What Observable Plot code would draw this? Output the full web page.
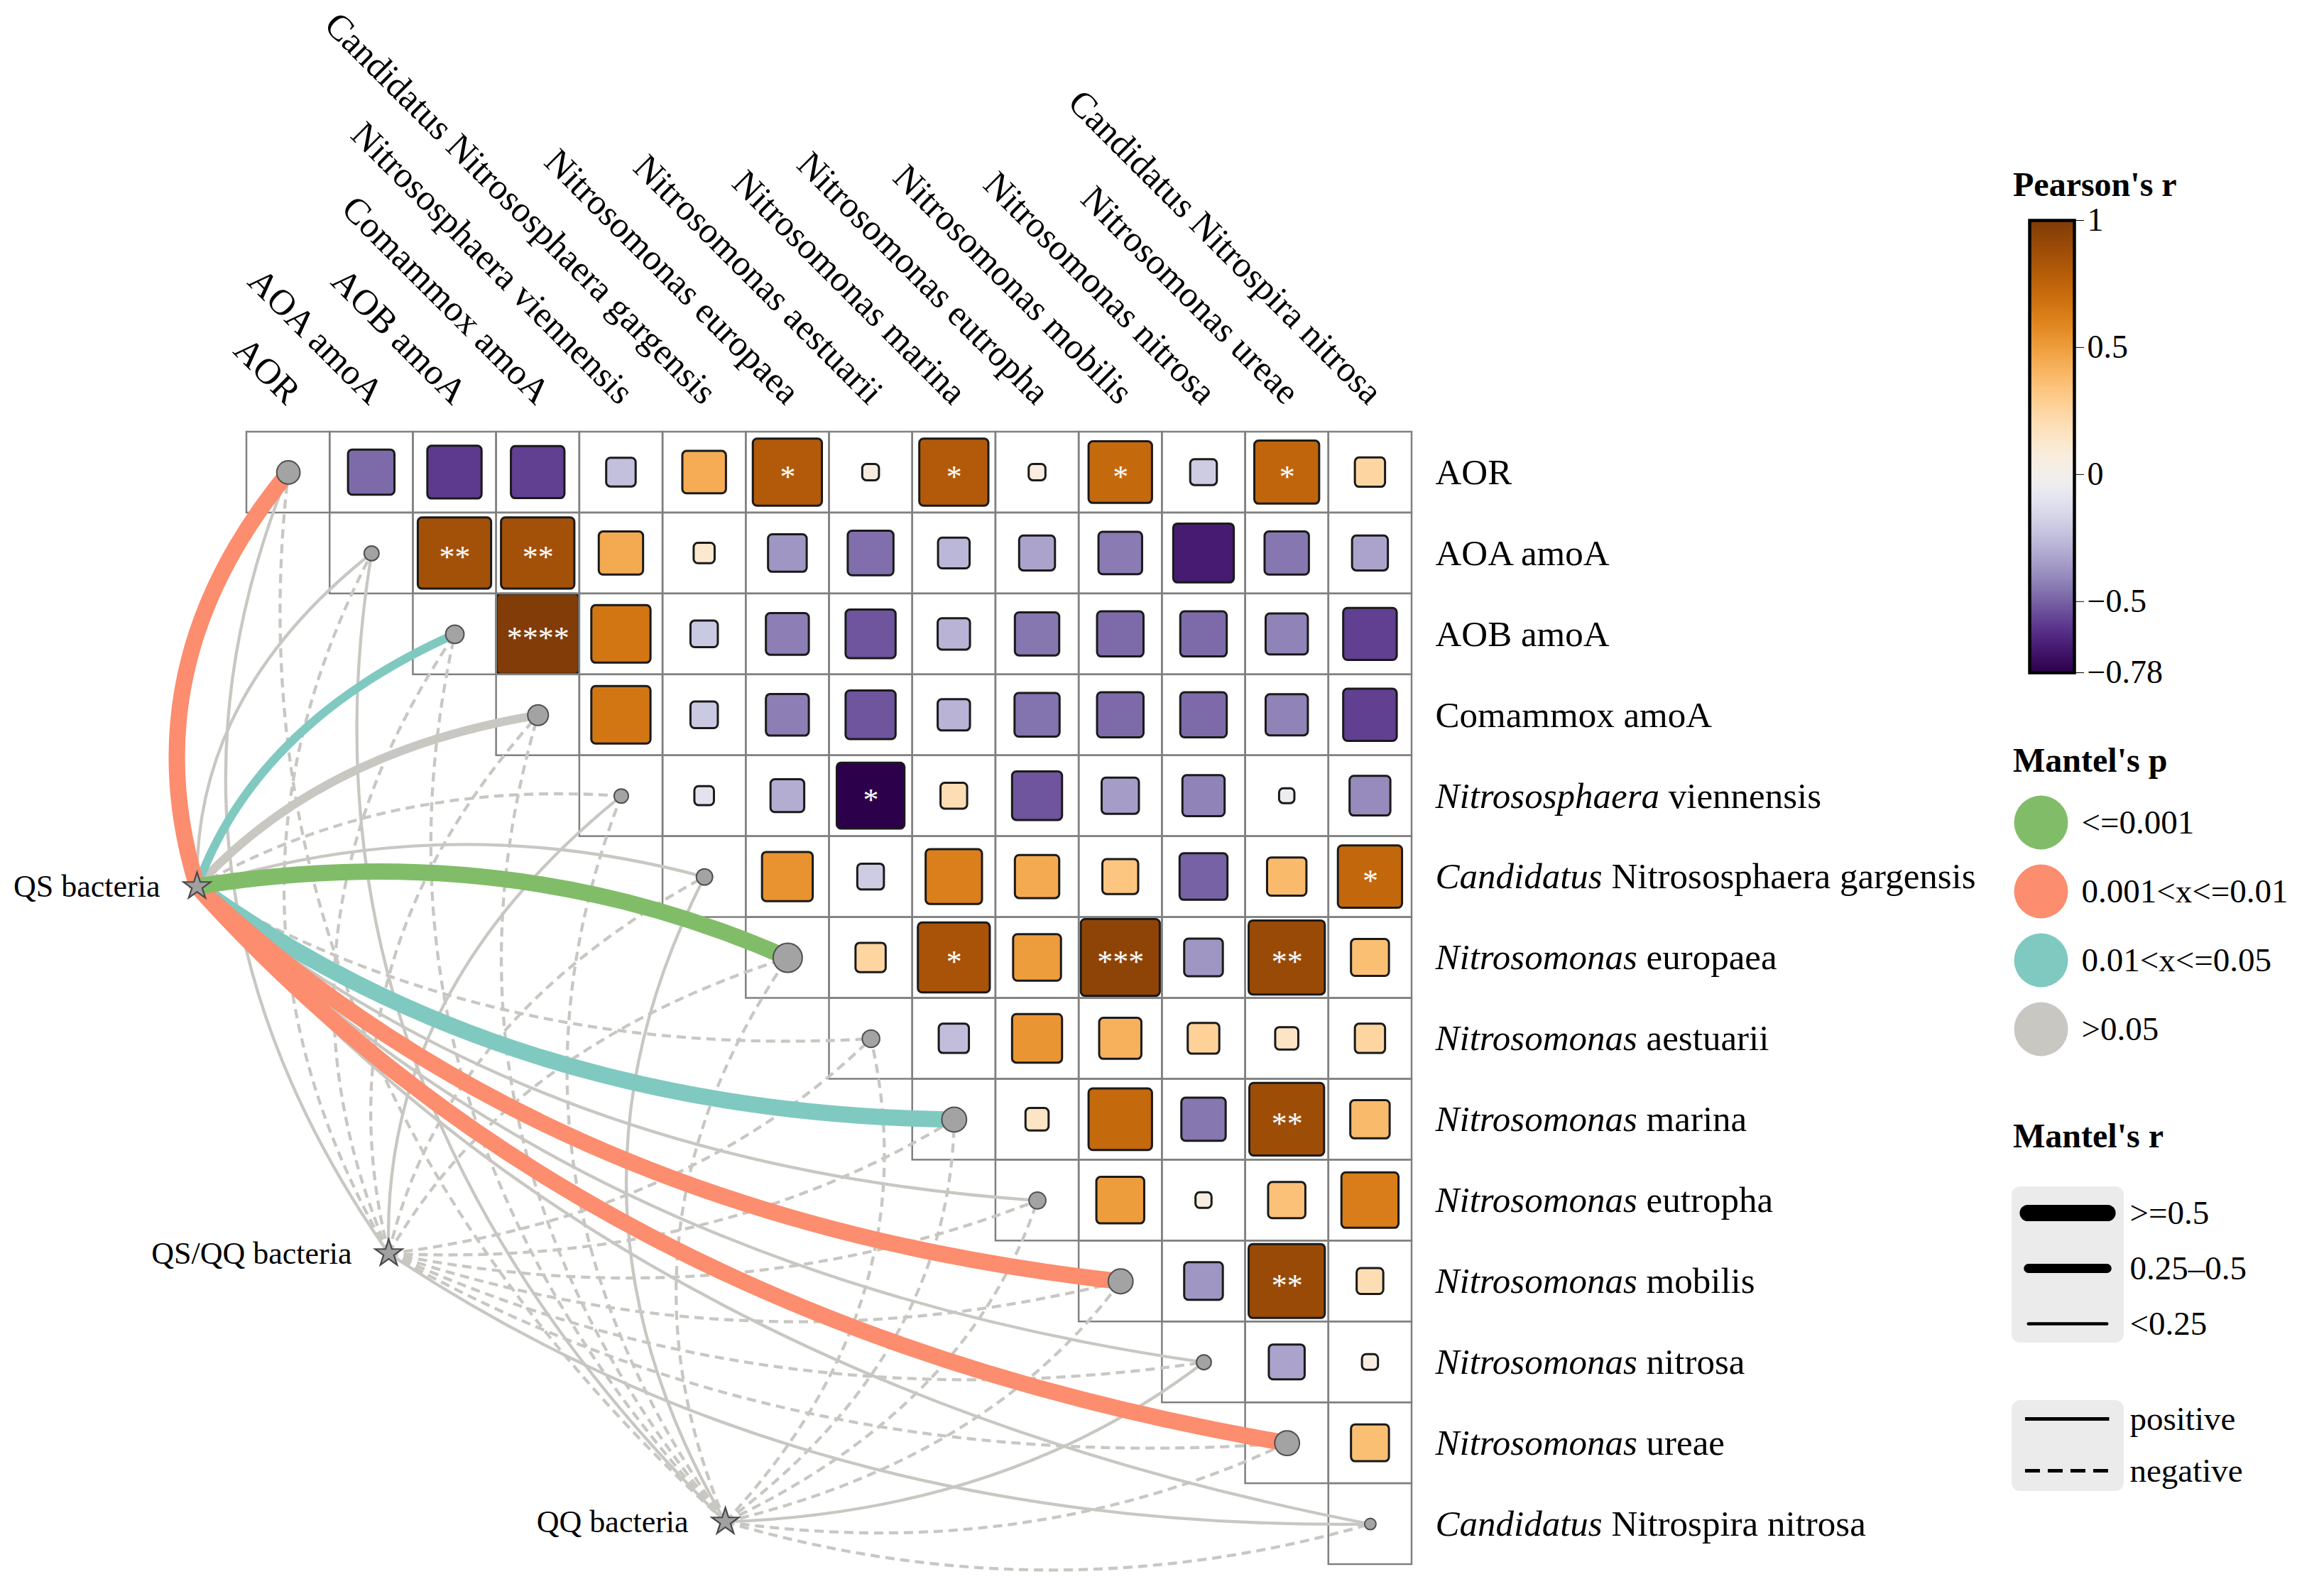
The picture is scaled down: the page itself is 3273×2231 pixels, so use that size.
<!DOCTYPE html>
<html><head><meta charset="utf-8">
<script src="https://cdn.jsdelivr.net/npm/d3@7"></script>
<script src="https://cdn.jsdelivr.net/npm/@observablehq/plot@0.6"></script>
<style>
html,body{margin:0;padding:0;background:#fff;}
#wrap{position:relative;width:3273px;height:2231px;overflow:hidden;background:#fff;font-family:"Liberation Serif","Times New Roman",serif;}
.ttl{position:absolute;font-weight:bold;font-size:48px;line-height:1;font-family:"Liberation Serif","Times New Roman",serif;color:#000;white-space:nowrap;}
.box{position:absolute;background:#ebebeb;border-radius:12px;}
</style></head>
<body><div id="wrap"></div>
<script>
// ---------------- data ----------------
const variables = ["AOR","AOA amoA","AOB amoA","Comammox amoA","Nitrososphaera viennensis","Candidatus Nitrososphaera gargensis","Nitrosomonas europaea","Nitrosomonas aestuarii","Nitrosomonas marina","Nitrosomonas eutropha","Nitrosomonas mobilis","Nitrosomonas nitrosa","Nitrosomonas ureae","Candidatus Nitrospira nitrosa"];
const italicPart = ["","","","","Nitrososphaera","Candidatus","Nitrosomonas","Nitrosomonas","Nitrosomonas","Nitrosomonas","Nitrosomonas","Nitrosomonas","Nitrosomonas","Candidatus"];

// Pearson's r, upper triangle: row i holds columns i+1 .. 13
const pearsonR = [
  [-0.48,-0.59,-0.58,-0.24,0.44,0.80,0.06,0.80,0.06,0.72,-0.20,0.74,0.25],
  [0.86,0.86,0.45,0.12,-0.37,-0.47,-0.27,-0.33,-0.44,-0.68,-0.45,-0.33],
  [0.99,0.66,-0.21,-0.43,-0.53,-0.28,-0.45,-0.48,-0.48,-0.42,-0.58],
  [0.66,-0.21,-0.43,-0.53,-0.28,-0.46,-0.48,-0.48,-0.42,-0.58],
  [-0.10,-0.30,-0.78,0.20,-0.53,-0.35,-0.42,-0.04,-0.40],
  [0.54,-0.20,0.62,0.45,0.33,-0.50,0.38,0.73],
  [0.25,0.84,0.50,0.94,-0.37,0.90,0.36],
  [-0.25,0.53,0.42,0.27,0.15,0.25],
  [0.15,0.72,-0.45,0.88,0.38],
  [0.50,0.05,0.35,0.63],
  [-0.37,0.90,0.20],
  [-0.33,0.05],
  [0.36]
];
const pearsonSig = [
  ["","","","","","*","","*","","*","","*",""],
  ["**","**","","","","","","","","","",""],
  ["****","","","","","","","","","",""],
  ["","","","","","","","","",""],
  ["","","*","","","","","",""],
  ["","","","","","","","*"],
  ["","*","","***","","**",""],
  ["","","","","",""],
  ["","","","**",""],
  ["","","",""],
  ["","**",""],
  ["",""],
  [""]
];

const sources = ["QS bacteria","QS/QQ bacteria","QQ bacteria"];
// Mantel's r and p, one row per source, one value per variable
const mantelR = [
  [0.62,0.12,0.38,0.42,-0.08,0.15,0.66,-0.06,0.58,0.13,0.60,0.10,0.60,0.08],
  [0.09,-0.07,-0.10,-0.09,0.06,-0.08,-0.11,-0.05,-0.09,-0.06,-0.10,-0.07,-0.08,0.05],
  [-0.08,0.07,-0.10,-0.09,-0.07,0.06,-0.10,-0.06,-0.09,-0.07,-0.10,0.05,-0.08,-0.06]
];
const mantelP = [
  [0.004,0.21,0.032,0.084,0.62,0.17,0.001,0.71,0.018,0.24,0.003,0.33,0.002,0.45],
  [0.31,0.62,0.77,0.71,0.48,0.66,0.83,0.57,0.74,0.61,0.79,0.64,0.69,0.52],
  [0.72,0.44,0.81,0.77,0.66,0.49,0.85,0.58,0.79,0.63,0.83,0.51,0.71,0.60]
];
// weight of each matrix node (the grey circle on the diagonal)
const nodeWeight = [0.80,0.51,0.63,0.71,0.49,0.56,1.00,0.60,0.85,0.58,0.85,0.51,0.85,0.39];

const pLabels = ["<=0.001","0.001<x<=0.01","0.01<x<=0.05",">0.05"];
const rLabels = [">=0.5","0.25\u20130.5","<0.25"];
const signLabels = ["positive","negative"];
const colorTicks = [-0.78,-0.5,0,0.5,1];

// ---------------- layout / style ----------------
const FONT = '"Liberation Serif","Times New Roman",serif';
const pColors = ["#81bd69","#fc8d6e","#7fc9c1","#c8c7c2"];
// anchor positions of the source nodes, in matrix (column,row) units
const sourceAnchor = [[-0.597,5.617],[1.706,10.155],[5.751,13.473]];
const colorOpts = {type:"diverging", scheme:"PuOr", domain:[-0.78,1], pivot:0, symmetric:false};
const pCat = p => p <= 0.001 ? 0 : p <= 0.01 ? 1 : p <= 0.05 ? 2 : 3;
const linkWidth = r => Math.abs(r) >= 0.5 ? 23 : Math.abs(r) >= 0.25 ? 12 : 4.3;
const side = r => 0.15 + 0.85 * Math.abs(r);

// curve factory: a bent link computed in panel-normalised space (like ggplot's geom_curve)
const CURV = 0.2, ASPECT = 1.37;
function bentCurve(sign) {
  return function(context) {
    let pts = [];
    return {
      areaStart() {}, areaEnd() {},
      lineStart() { pts = []; },
      point(x, y) { pts.push([+x, +y]); },
      lineEnd() {
        if (pts.length < 2) return;
        const [x1, y1] = pts[0], [x2, y2] = pts[pts.length - 1];
        const dx = x2 - x1, dy = y2 - y1;
        const cx = (x1 + x2) / 2 + sign * CURV * dy * ASPECT;
        const cy = (y1 + y2) / 2 - sign * CURV * dx / ASPECT;
        context.moveTo(x1, y1);
        context.quadraticCurveTo(cx, cy, x2, y2);
      }
    };
  };
}

const cells = [];
pearsonR.forEach((row, i) => row.forEach((r, k) => cells.push({i, j: i + 1 + k, r, sig: pearsonSig[i][k]})));
const grid = [];
variables.forEach((v, i) => { for (let j = i; j < variables.length; j++) grid.push({i, j}); });
const links = [];
sources.forEach((s, si) => variables.forEach((v, ti) => links.push({si, ti, r: mantelR[si][ti], p: mantelP[si][ti]})));

const linkMarks = [];
for (const cat of [3, 2, 1, 0]) for (const dashed of [true, false]) for (const up of [true, false]) {
  const sub = links.filter(d => pCat(d.p) === cat && (d.r < 0) === dashed && (d.ti < 7) === up);
  if (!sub.length) continue;
  linkMarks.push(Plot.link(sub, {
    x1: d => sourceAnchor[d.si][0], y1: d => sourceAnchor[d.si][1],
    x2: d => d.ti + 0.5, y2: d => d.ti + 0.5,
    curve: bentCurve(up ? 1 : -1),
    stroke: pColors[cat], strokeWidth: d => linkWidth(d.r),
    strokeDasharray: dashed ? "13,8" : undefined, strokeLinecap: "butt"
  }));
}

const wrap = document.getElementById("wrap");

const main = Plot.plot({
  width: 2830, height: 2231,
  marginLeft: 347, marginRight: 842, marginTop: 608, marginBottom: 28,
  x: {domain: [0, 14], axis: null},
  y: {domain: [14, 0], axis: null},
  color: colorOpts,
  r: {type: "linear", domain: [0, 1], range: [0, 20.5]},
  style: {fontFamily: FONT, background: "transparent", overflow: "visible", color: "#000"},
  marks: [
    Plot.rect(grid, {x1: d => d.j, x2: d => d.j + 1, y1: d => d.i, y2: d => d.i + 1, fill: "white"}),
    Plot.rect(cells, {
      x1: d => d.j + 0.5 - side(d.r) / 2, x2: d => d.j + 0.5 + side(d.r) / 2,
      y1: d => d.i + 0.5 - side(d.r) / 2, y2: d => d.i + 0.5 + side(d.r) / 2,
      fill: "r", stroke: "#1a1a1a", strokeWidth: 3, rx: 6
    }),
    Plot.rect(grid, {x1: d => d.j, x2: d => d.j + 1, y1: d => d.i, y2: d => d.i + 1, fill: "none", stroke: "#808080", strokeWidth: 2.5}),
    Plot.text(cells.filter(d => d.sig), {x: d => d.j + 0.5, y: d => d.i + 0.5, text: "sig", fill: "white", fontSize: 44, dy: 6}),
    ...linkMarks,
    Plot.dot(variables, {x: (d, i) => i + 0.5, y: (d, i) => i + 0.5, r: (d, i) => nodeWeight[i], fill: "#a3a3a3", stroke: "#505050", strokeWidth: 2}),
    Plot.dot(sources, {x: (d, i) => sourceAnchor[i][0], y: (d, i) => sourceAnchor[i][1], symbol: "star", r: 12, fill: "#a0a0a0", stroke: "#4a4a4a", strokeWidth: 2.2}),
    Plot.text(sources, {x: (d, i) => sourceAnchor[i][0], y: (d, i) => sourceAnchor[i][1], text: d => d, textAnchor: "end", dx: -52, fontSize: 44}),
    Plot.text(variables, {x: (d, i) => i + 0.5, y: 0, text: d => d, rotate: 45, textAnchor: "end", dx: 8, dy: -48, fontSize: 51}),
    Plot.text(variables, {x: 14, y: (d, i) => i + 0.5, text: d => d, textAnchor: "start", dx: 33, fontSize: 51})
  ]
});
main.style.position = "absolute"; main.style.left = "0px"; main.style.top = "0px";
wrap.appendChild(main);

// italic genus names in the row labels
const italicMap = new Map(variables.map((v, i) => [v, italicPart[i]]));
main.querySelectorAll("text").forEach(t => {
  const tr = t.getAttribute("transform") || "";
  if (tr.includes("rotate")) return;
  const s = t.textContent, it = italicMap.get(s);
  if (!it) return;
  t.textContent = "";
  const ns = "http://www.w3.org/2000/svg";
  const a = document.createElementNS(ns, "tspan"); a.setAttribute("font-style", "italic"); a.textContent = it;
  const b = document.createElementNS(ns, "tspan"); b.textContent = s.slice(it.length);
  t.append(a, b);
});

function place(el, left, top) { el.style.position = "absolute"; el.style.left = left + "px"; el.style.top = top + "px"; wrap.appendChild(el); return el; }
function title(txt, left, top) { const d = document.createElement("div"); d.className = "ttl"; d.textContent = txt; place(d, left, top); }

// ---------------- Pearson's r colour bar ----------------
title("Pearson's r", 2835, 236);
const step = 0.005;
const bands = d3.range(-0.78, 1, step).map(v => ({y1: v, y2: Math.min(1, v + step)}));
const cbar = Plot.plot({
  width: 473, height: 720, marginLeft: 58, marginRight: 352, marginTop: 40, marginBottom: 43,
  x: {domain: [0, 1], axis: null},
  y: {domain: [-0.78, 1], ticks: colorTicks, tickSize: 13, tickPadding: 5, axis: "right", label: null,
      tickFormat: d => d < 0 ? "\u2212" + String(-d) : String(d)},
  color: colorOpts,
  style: {fontFamily: FONT, fontSize: "46px", background: "transparent", overflow: "visible", color: "#000"},
  marks: [
    Plot.rect(bands, {x1: 0, x2: 1, y1: "y1", y2: "y2", fill: d => (d.y1 + d.y2) / 2, shapeRendering: "crispEdges"}),
    Plot.frame({stroke: "#000", strokeWidth: 4.5})
  ]
});
place(cbar, 2800, 270);

// ---------------- Mantel's p ----------------
title("Mantel's p", 2835, 1047);
const pLeg = Plot.plot({
  width: 473, height: 400, marginLeft: 74, marginRight: 342, marginTop: 0, marginBottom: 0,
  x: {domain: [0, 1], axis: null},
  y: {type: "point", domain: pLabels, range: [58, 349], padding: 0, axis: null},
  color: {type: "ordinal", domain: pLabels, range: pColors},
  style: {fontFamily: FONT, background: "transparent", overflow: "visible", color: "#000"},
  marks: [
    Plot.dot(pLabels, {x: 0, y: d => d, r: 38, fill: d => d}),
    Plot.text(pLabels, {x: 0, y: d => d, text: d => d, dx: 57, textAnchor: "start", fontSize: 47})
  ]
});
place(pLeg, 2800, 1100);

// ---------------- Mantel's r ----------------
title("Mantel's r", 2835, 1576);
const rBox = document.createElement("div"); rBox.className = "box"; rBox.style.width = "158px"; rBox.style.height = "220px"; place(rBox, 2833, 1671);
const rLeg = Plot.plot({
  width: 440, height: 220, marginLeft: 0, marginRight: 282, marginTop: 0, marginBottom: 0,
  x: {domain: [0, 1], axis: null},
  y: {type: "point", domain: rLabels, range: [37, 193], padding: 0, axis: null},
  style: {fontFamily: FONT, background: "transparent", overflow: "visible", color: "#000"},
  marks: [
    Plot.ruleY(rLabels, {y: d => d, x1: (d, i) => [0.145, 0.15, 0.15][i], x2: (d, i) => [0.855, 0.85, 0.85][i], strokeWidth: (d, i) => [23, 13, 4.4][i], strokeLinecap: "round", stroke: "#000"}),
    Plot.text(rLabels, {x: 1, y: d => d, text: d => d, dx: 8, textAnchor: "start", fontSize: 47})
  ]
});
place(rLeg, 2833, 1671);

const sBox = document.createElement("div"); sBox.className = "box"; sBox.style.width = "158px"; sBox.style.height = "128px"; place(sBox, 2833, 1972);
const sLeg = Plot.plot({
  width: 440, height: 128, marginLeft: 0, marginRight: 282, marginTop: 0, marginBottom: 0,
  x: {domain: [0, 1], axis: null},
  y: {type: "point", domain: signLabels, range: [26, 99], padding: 0, axis: null},
  style: {fontFamily: FONT, background: "transparent", overflow: "visible", color: "#000"},
  marks: [
    Plot.ruleY(signLabels.slice(0, 1), {y: d => d, x1: 0.12, x2: 0.87, strokeWidth: 5, stroke: "#000"}),
    Plot.ruleY(signLabels.slice(1), {y: d => d, x1: 0.12, x2: 0.87, strokeWidth: 5, stroke: "#000", strokeDasharray: "21,11"}),
    Plot.text(signLabels, {x: 1, y: d => d, text: d => d, dx: 8, textAnchor: "start", fontSize: 47})
  ]
});
place(sLeg, 2833, 1972);
</script>
</body></html>
